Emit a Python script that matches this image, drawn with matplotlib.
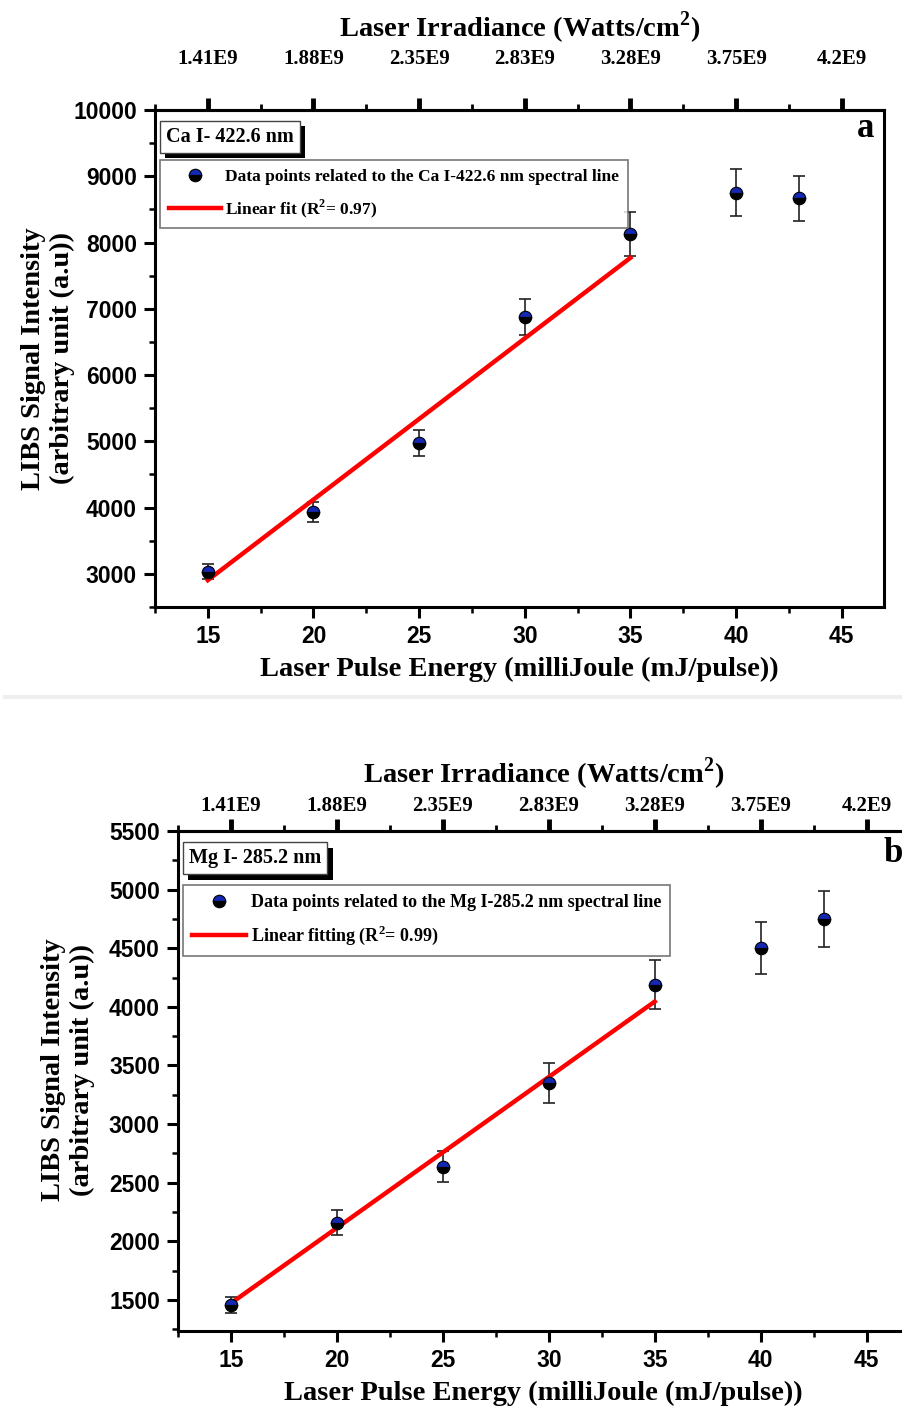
import numpy as np
import matplotlib
matplotlib.use('Agg')
import matplotlib.pyplot as plt
from matplotlib.ticker import MultipleLocator
from matplotlib.lines import Line2D
import matplotlib.patheffects as pe

plt.rcParams['font.family'] = ['Liberation Sans']
plt.rcParams['font.weight'] = 'bold'
plt.rcParams['mathtext.fontset'] = 'custom'
plt.rcParams['mathtext.rm'] = 'Liberation Serif:bold'
plt.rcParams['mathtext.bf'] = 'Liberation Serif:bold'

# 数据
energy = [15, 20, 25, 30, 35, 40, 43]
ca_intensity = [3035, 3940, 4975, 6875, 8130, 8755, 8665]
ca_err = [115, 150, 195, 270, 330, 350, 345]
mg_intensity = [1457, 2160, 2637, 3349, 4188, 4501, 4748]
mg_err = [70, 110, 130, 170, 210, 225, 237]

fit_energy = [15, 35]
ca_fit = [2905, 7770]
mg_fit = [1472, 4045]

irr_ticks = [15, 20, 25, 30, 35, 40, 45]
irr_labels = ['1.41E9', '1.88E9', '2.35E9', '2.83E9', '3.28E9', '3.75E9', '4.2E9']

SERIF = 'Liberation Serif'


def draw_panel(ax, intensity, err, fit, ylim, ymajor, yminor, line_name, fit_label,
               tag, letter, top_pad, title_pad, ylabel_x, ylabel_y, letter_xy,
               leg_y, leg_size):
    ax.errorbar(energy, intensity, yerr=err, fmt='none', ecolor='#222222',
                elinewidth=1.2, capsize=4, capthick=1.2, zorder=2)
    fit_line, = ax.plot(fit_energy, fit, color='#ff0000', linewidth=3.2, zorder=3)
    pts, = ax.plot(energy, intensity, ls='none', marker='o', markersize=9,
                   fillstyle='top', markerfacecolor='#1428b4',
                   markerfacecoloralt='black', markeredgecolor='black',
                   markeredgewidth=0.8, zorder=4)

    ax.set_xlim(12.5, 47)
    ax.set_ylim(*ylim)
    ax.xaxis.set_major_locator(MultipleLocator(5))
    ax.xaxis.set_minor_locator(MultipleLocator(2.5))
    ax.yaxis.set_major_locator(MultipleLocator(ymajor))
    ax.yaxis.set_minor_locator(MultipleLocator(yminor))
    ax.tick_params(which='major', direction='out', length=8, width=2.2,
                   labelsize=16.5, pad=5, top=False, right=False)
    ax.tick_params(which='minor', direction='out', length=4, width=1.8,
                   top=False, right=False)
    for s in ax.spines.values():
        s.set_linewidth(2.2)

    ax.set_xlabel('Laser Pulse Energy (milliJoule (mJ/pulse))', fontsize=20.5,
                  family=SERIF, fontweight='bold')
    ax.xaxis.set_label_coords(0.5, -0.1)
    ax.set_ylabel('LIBS Signal Intensity\n(arbitrary unit (a.u))', fontsize=20.5,
                  family=SERIF, fontweight='bold', linespacing=1.2)
    ax.yaxis.set_label_coords(ylabel_x, ylabel_y)

    # 顶部辐照度坐标轴
    sec = ax.secondary_xaxis('top')
    sec.set_xticks(irr_ticks, labels=irr_labels, family=SERIF, fontweight='bold',
                   fontsize=15)
    sec.xaxis.set_minor_locator(MultipleLocator(2.5))
    sec.tick_params(which='major', direction='out', length=8.5, width=3.5, pad=top_pad)
    sec.tick_params(which='minor', direction='out', length=4, width=2)
    sec.spines['top'].set_linewidth(2.2)
    sec.set_xlabel('Laser Irradiance (Watts/cm$^2$)', fontsize=20.5, family=SERIF,
                   fontweight='bold', labelpad=title_pad)

    leg = ax.legend([pts, fit_line],
                    [f'Data points related to the {line_name} nm spectral line', fit_label],
                    loc='upper left', bbox_to_anchor=(0.007, leg_y), borderaxespad=0,
                    prop={'family': SERIF, 'weight': 'bold', 'size': leg_size},
                    frameon=True, fancybox=False, edgecolor='#555555',
                    handlelength=3.0, handletextpad=0.25, labelspacing=0.7,
                    borderpad=0.5)
    leg.get_frame().set_linewidth(1.2)

    t = ax.text(0.015, 0.946, tag, transform=ax.transAxes, ha='left', va='center',
                family=SERIF, fontweight='bold', fontsize=14.5, zorder=6,
                bbox=dict(boxstyle='square,pad=0.3', facecolor='white',
                          edgecolor='#444444', linewidth=1.0))
    t.get_bbox_patch().set_path_effects([
        pe.SimplePatchShadow(offset=(4, -4), shadow_rgbFace='black', alpha=1.0),
        pe.Normal()])

    ax.text(letter_xy[0], letter_xy[1], letter, transform=ax.transAxes,
            ha='center', va='center', family=SERIF, fontweight='bold', fontsize=25)


fig = plt.figure(figsize=(9.02, 14.10), dpi=100)
ax1 = fig.add_axes([155 / 902, 1 - 607 / 1410, 729 / 902, 497 / 1410])
ax2 = fig.add_axes([178 / 902, 1 - 1331 / 1410, 731 / 902, 500 / 1410])

draw_panel(ax1, ca_intensity, ca_err, ca_fit, (2500, 10000), 1000, 500,
           'Ca I-422.6', 'Linear fit (R$^{2}$= 0.97)', 'Ca I- 422.6 nm', 'a',
           top_pad=21, title_pad=9, ylabel_x=-0.11, ylabel_y=0.5,
           letter_xy=(0.975, 0.962), leg_y=0.899, leg_size=12.5)
draw_panel(ax2, mg_intensity, mg_err, mg_fit, (1235, 5500), 500, 250,
           'Mg I-285.2', 'Linear fitting (R$^{2}$= 0.99)', 'Mg I- 285.2 nm', 'b',
           top_pad=2, title_pad=10, ylabel_x=-0.114, ylabel_y=0.522,
           letter_xy=(0.978, 0.956), leg_y=0.892, leg_size=13)

# 两图之间的浅灰分隔线
fig.add_artist(Line2D([0.005, 1], [1 - 697 / 1410] * 2, color='#efefef', lw=3,
                      transform=fig.transFigure))

fig.savefig('out.png', dpi=100)
print('saved out.png')
